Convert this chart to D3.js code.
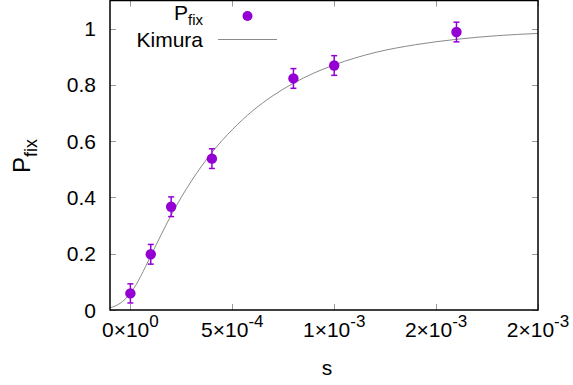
<!DOCTYPE html>
<html><head><meta charset="utf-8">
<script src="https://cdn.jsdelivr.net/npm/d3@7"></script>
<style>
html,body{margin:0;padding:0;background:#fff;}
text{font-family:"Liberation Sans",Arial,sans-serif;fill:#000;}
</style></head>
<body>
<svg id="c" width="573" height="385"></svg>
<script>
// Data points (s, P_fix, error)
const sVals = [0, 1e-4, 2e-4, 4e-4, 8e-4, 1e-3, 1.6e-3];
const pFix  = [0.059, 0.198, 0.367, 0.538, 0.823, 0.869, 0.988];
const pErr  = [0.034, 0.035, 0.035, 0.035, 0.035, 0.035, 0.035];
// Kimura curve, values
const kimuraS = [-1e-4, -0.75e-4, -0.5e-4, -0.25e-4, 0, 0.25e-4, 0.5e-4, 0.75e-4, 1e-4, 1.5e-4, 2e-4, 2.5e-4, 3e-4, 4e-4, 5e-4, 6e-4, 7e-4, 8e-4, 9e-4, 1e-3, 1.2e-3, 1.4e-3, 1.6e-3, 1.8e-3, 2e-3];
const kimuraP = [0.008, 0.014, 0.024, 0.039, 0.060, 0.086, 0.119, 0.155, 0.192, 0.266, 0.337, 0.401, 0.459, 0.560, 0.641, 0.708, 0.762, 0.806, 0.842, 0.871, 0.915, 0.943, 0.962, 0.975, 0.983];
// Ticks
const xTicks = [0, 5e-4, 1e-3, 1.5e-3, 2e-3];
const xTickMant = ["0", "5", "1", "2", "2"];
const xTickExp  = ["0", "-4", "-3", "-3", "-3"];
const yTicks = [0, 0.2, 0.4, 0.6, 0.8, 1];
const yTickLabels = ["0", "0.2", "0.4", "0.6", "0.8", "1"];

const svg = d3.select("#c");
const L = 110, R = 538, T = 0.5, B = 310;
const x = d3.scaleLinear().domain([-1e-4, 2e-3]).range([L, R]);
const y = d3.scaleLinear().domain([0, 1.1]).range([B, T]);
const purple = "#9400d3";
const FS = 21;

// ticks (inward, mirrored)
const tg = svg.append("g").attr("stroke", "#999").attr("stroke-width", 1);
xTicks.forEach(v => {
  const px = Math.round(x(v)) + 0.5;
  tg.append("line").attr("x1", px).attr("x2", px).attr("y1", B).attr("y2", B - 6);
  tg.append("line").attr("x1", px).attr("x2", px).attr("y1", T).attr("y2", T + 6);
});
yTicks.forEach(v => {
  const py = Math.round(y(v)) + 0.5;
  tg.append("line").attr("x1", L).attr("x2", L + 6).attr("y1", py).attr("y2", py);
  tg.append("line").attr("x1", R).attr("x2", R - 6).attr("y1", py).attr("y2", py);
});

// Kimura curve
const line = d3.line().x((d, i) => x(kimuraS[i])).y(d => y(d)).curve(d3.curveMonotoneX);
svg.append("path").attr("d", line(kimuraP)).attr("fill", "none").attr("stroke", "#8a8a8a").attr("stroke-width", 1);

// error bars and points
const pts = svg.append("g");
sVals.forEach((s, i) => {
  const px = x(s), y1 = y(pFix[i] + pErr[i]), y0 = y(pFix[i] - pErr[i]);
  pts.append("line").attr("x1", px).attr("x2", px).attr("y1", y1).attr("y2", y0).attr("stroke", purple).attr("stroke-width", 1.5);
  pts.append("line").attr("x1", px - 3).attr("x2", px + 3).attr("y1", y1).attr("y2", y1).attr("stroke", purple).attr("stroke-width", 1.5);
  pts.append("line").attr("x1", px - 3).attr("x2", px + 3).attr("y1", y0).attr("y2", y0).attr("stroke", purple).attr("stroke-width", 1.5);
  pts.append("circle").attr("cx", px).attr("cy", y(pFix[i])).attr("r", 5.2).attr("fill", purple);
});

// frame
svg.append("rect").attr("x", L).attr("y", T).attr("width", R - L).attr("height", B - T)
  .attr("fill", "none").attr("stroke", "#000").attr("stroke-width", 1.5);

// y tick labels
yTicks.forEach((v, i) => {
  svg.append("text").attr("x", 96).attr("y", y(v) + 7.5).attr("text-anchor", "end")
    .attr("font-size", FS).text(yTickLabels[i]);
});
// x tick labels
xTicks.forEach((v, i) => {
  const t = svg.append("text").attr("x", x(v)).attr("y", 337).attr("text-anchor", "middle").attr("font-size", FS);
  t.append("tspan").text(xTickMant[i] + "×10");
  t.append("tspan").attr("dy", -10).attr("font-size", 17).text(xTickExp[i]);
});

// axis labels
svg.append("text").attr("x", 327).attr("y", 375).attr("text-anchor", "middle").attr("font-size", FS).text("s");
const yl = svg.append("text").attr("transform", "translate(30,156) rotate(-90)").attr("text-anchor", "middle").attr("font-size", 24);
yl.append("tspan").text("P");
yl.append("tspan").attr("dy", 7).attr("font-size", 18).text("fix");

// legend
const lg = svg.append("text").attr("x", 203).attr("y", 20).attr("text-anchor", "end").attr("font-size", FS);
lg.append("tspan").text("P");
lg.append("tspan").attr("dy", 5).attr("font-size", 15).text("fix");
svg.append("circle").attr("cx", 247.5).attr("cy", 16).attr("r", 5).attr("fill", purple);
svg.append("text").attr("x", 203).attr("y", 47).attr("text-anchor", "end").attr("font-size", FS).text("Kimura");
svg.append("line").attr("x1", 218).attr("x2", 277).attr("y1", 39.5).attr("y2", 39.5).attr("stroke", "#8a8a8a").attr("stroke-width", 1);
</script>
</body></html>
